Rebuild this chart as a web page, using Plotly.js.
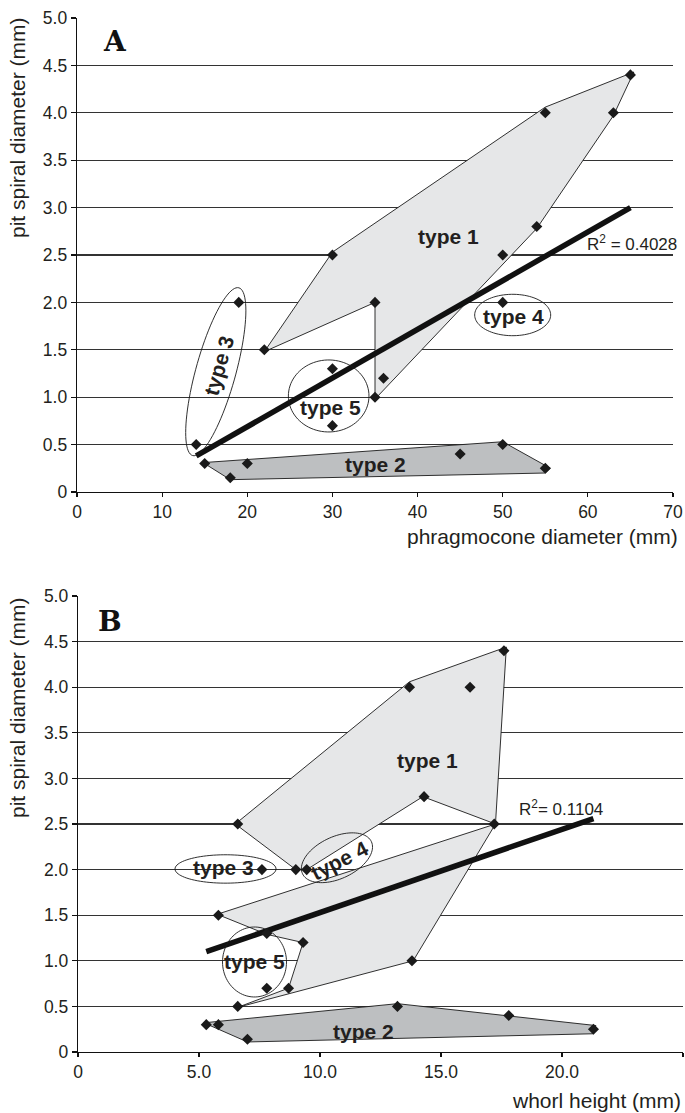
<!DOCTYPE html>
<html><head><meta charset="utf-8">
<script src="https://cdn.plot.ly/plotly-3.0.1.min.js"></script>
<style>html,body{margin:0;padding:0;background:#fff}#chart{width:685px;height:1113px}</style>
</head><body><div id="chart"></div>
<script>
// ---------- Panel A data: phragmocone diameter (mm) vs pit spiral diameter (mm)
const A_type1_x = [22, 30, 35, 35, 36, 50, 54, 55, 63, 65];
const A_type1_y = [1.5, 2.5, 2.0, 1.0, 1.2, 2.5, 2.8, 4.0, 4.0, 4.4];
const A_type2_x = [15, 18, 20, 45, 50, 55];
const A_type2_y = [0.3, 0.15, 0.3, 0.4, 0.5, 0.25];
const A_type3_x = [14, 19];
const A_type3_y = [0.5, 2.0];
const A_type4_x = [50];
const A_type4_y = [2.0];
const A_type5_x = [30, 30];
const A_type5_y = [1.3, 0.7];
const A_trend_x = [14, 65];
const A_trend_y = [0.38, 3.0];
const A_r2 = "0.4028";
// outlines drawn around groups (hand-drawn hulls)
const A_hull1_x = [22, 30, 55, 65.4, 63, 54, 35, 35, 22];
const A_hull1_y = [1.48, 2.53, 4.06, 4.43, 3.97, 2.78, 0.98, 2.0, 1.48];
const A_hull2_x = [14.8, 50, 55.6, 55, 18, 14.8];
const A_hull2_y = [0.31, 0.53, 0.25, 0.2, 0.13, 0.31];

// ---------- Panel B data: whorl height (mm) vs pit spiral diameter (mm)
const B_type1_x = [6.6, 13.7, 16.2, 17.6, 14.3, 17.2, 9.0, 5.8, 9.3, 13.8, 8.7, 6.6];
const B_type1_y = [2.5, 4.0, 4.0, 4.4, 2.8, 2.5, 2.0, 1.5, 1.2, 1.0, 0.7, 0.5];
const B_type2_x = [5.3, 5.8, 7.0, 13.2, 17.8, 21.3];
const B_type2_y = [0.3, 0.3, 0.14, 0.5, 0.4, 0.25];
const B_type3_x = [7.6];
const B_type3_y = [2.0];
const B_type4_x = [9.45];
const B_type4_y = [2.0];
const B_type5_x = [7.8, 7.8];
const B_type5_y = [1.3, 0.7];
const B_trend_x = [5.3, 21.3];
const B_trend_y = [1.1, 2.56];
const B_r2 = "0.1104";
const B_hull1_x = [9.0, 6.5, 13.7, 17.7, 17.25, 13.85, 6.6, 8.7, 9.3, 7.8, 5.75, 17.25, 14.25, 9.45, 9.0];
const B_hull1_y = [2.0, 2.5, 4.06, 4.44, 2.5, 1.0, 0.49, 0.7, 1.2, 1.29, 1.51, 2.5, 2.8, 2.0, 2.0];
const B_hull2_x = [5.2, 13.2, 21.4, 21.3, 7.0, 5.2];
const B_hull2_y = [0.32, 0.53, 0.29, 0.2, 0.11, 0.32];

// ---------- tick labels
const A_xticks = [0, 10, 20, 30, 40, 50, 60, 70];
const A_xticktext = ["0", "10", "20", "30", "40", "50", "60", "70"];
const B_xticks = [0, 5, 10, 15, 20, 25];
const B_xticktext = ["0", "5.0", "10.0", "15.0", "20.0", "25.0"];
const yticks = [0, 0.5, 1, 1.5, 2, 2.5, 3, 3.5, 4, 4.5, 5];
const yticktext = ["0", "0.5", "1.0", "1.5", "2.0", "2.5", "3.0", "3.5", "4.0", "4.5", "5.0"];

// ---------- layout geometry
const W = 685, H = 1113;
const M = {l: 77, r: 2, t: 18, b: 61};
const PW = W - M.l - M.r, PH = H - M.t - M.b;
const domXA = [0, 0.9835], domYA = [0.5416, 1];
const domXB = [0.0017, 1], domYB = [0, 0.441];
const sxA = PW * (domXA[1] - domXA[0]) / 70, syA = PH * (domYA[1] - domYA[0]) / 5;
const sxB = PW * (domXB[1] - domXB[0]) / 25, syB = PH * (domYB[1] - domYB[0]) / 5;

const INK = '#1a1a1a';
const FONT = 'Liberation Sans, Arial, Helvetica, sans-serif';

function hull(x, y, fill, xa, ya) {
  return {x, y, xaxis: xa, yaxis: ya, mode: 'lines', fill: 'toself', fillcolor: fill,
    line: {color: INK, width: 0.9}, hoverinfo: 'skip', showlegend: false};
}
function pts(x, y, xa, ya) {
  return {x, y, xaxis: xa, yaxis: ya, mode: 'markers', showlegend: false,
    marker: {symbol: 'diamond', size: 8.5, color: INK}, cliponaxis: false};
}
function trend(x, y, xa, ya) {
  return {x, y, xaxis: xa, yaxis: ya, mode: 'lines', showlegend: false,
    line: {color: '#111', width: 5.5}, hoverinfo: 'skip'};
}
// ellipse outline (pixel semi-axes a,b rotated by ang degrees on screen)
function ellipse(cx, cy, a, b, ang, sx, sy, xref, yref) {
  const th = ang * Math.PI / 180;
  let d = '';
  for (let i = 0; i <= 90; i++) {
    const t = i / 90 * 2 * Math.PI;
    const dx = a * Math.cos(th) * Math.cos(t) - b * Math.sin(th) * Math.sin(t);
    const dy = a * Math.sin(th) * Math.cos(t) + b * Math.cos(th) * Math.sin(t);
    d += (i ? 'L' : 'M') + (cx + dx / sx).toFixed(4) + ',' + (cy - dy / sy).toFixed(4);
  }
  return {type: 'path', path: d + 'Z', xref, yref, line: {color: INK, width: 0.9}, layer: 'above'};
}

const data = [
  hull(A_hull1_x, A_hull1_y, '#e6e7e8', 'x', 'y'),
  hull(A_hull2_x, A_hull2_y, '#bdbfc1', 'x', 'y'),
  trend(A_trend_x, A_trend_y, 'x', 'y'),
  pts(A_type1_x, A_type1_y, 'x', 'y'),
  pts(A_type2_x, A_type2_y, 'x', 'y'),
  pts(A_type3_x, A_type3_y, 'x', 'y'),
  pts(A_type4_x, A_type4_y, 'x', 'y'),
  pts(A_type5_x, A_type5_y, 'x', 'y'),
  hull(B_hull1_x, B_hull1_y, '#e6e7e8', 'x2', 'y2'),
  hull(B_hull2_x, B_hull2_y, '#bdbfc1', 'x2', 'y2'),
  trend(B_trend_x, B_trend_y, 'x2', 'y2'),
  pts(B_type1_x, B_type1_y, 'x2', 'y2'),
  pts(B_type2_x, B_type2_y, 'x2', 'y2'),
  pts(B_type3_x, B_type3_y, 'x2', 'y2'),
  pts(B_type4_x, B_type4_y, 'x2', 'y2'),
  pts(B_type5_x, B_type5_y, 'x2', 'y2')
];

const shapes = [
  ellipse(16.3, 1.269, 87, 20, -74.6, sxA, syA, 'x', 'y'),
  ellipse(29.56, 1.013, 40.3, 36, 0, sxA, syA, 'x', 'y'),
  ellipse(51.17, 1.867, 38, 20.7, 0, sxA, syA, 'x', 'y'),
  ellipse(6.095, 2.007, 50.5, 14.2, 0, sxB, syB, 'x2', 'y2'),
  ellipse(10.70, 2.13, 38, 21, -25, sxB, syB, 'x2', 'y2'),
  ellipse(7.293, 0.987, 32, 35, 0, sxB, syB, 'x2', 'y2')
];

function lab(text, x, y, xref, yref, angle) {
  return {text, x, y, xref, yref, showarrow: false, textangle: angle || 0,
    xanchor: 'center', yanchor: 'middle',
    font: {family: FONT, size: 21, color: '#231f20', weight: 'bold'}};
}
function px2paperX(px) { return (px - M.l) / PW; }
function px2paperY(py) { return (H - M.b - py) / PH; }

const annotations = [
  lab('type 1', 43.6, 2.70, 'x', 'y'),
  lab('type 2', 35.0, 0.285, 'x', 'y'),
  lab('type 3', 16.7, 1.33, 'x', 'y', -74),
  lab('type 4', 51.3, 1.85, 'x', 'y'),
  lab('type 5', 29.8, 0.89, 'x', 'y'),
  lab('type 1', 14.43, 3.20, 'x2', 'y2'),
  lab('type 2', 11.78, 0.23, 'x2', 'y2'),
  lab('type 3', 6.0, 2.02, 'x2', 'y2'),
  lab('type 4', 10.8, 2.10, 'x2', 'y2', -27),
  lab('type 5', 7.28, 0.99, 'x2', 'y2'),
  {text: 'R<sup>2</sup> = ' + A_r2, x: 59.67, y: 2.63, xref: 'x', yref: 'y', showarrow: false,
    xanchor: 'left', yanchor: 'middle', font: {family: FONT, size: 17, color: '#231f20'}},
  {text: 'R<sup>2</sup>= ' + B_r2, x: 18.14, y: 2.67, xref: 'x2', yref: 'y2', showarrow: false,
    xanchor: 'left', yanchor: 'middle', font: {family: FONT, size: 17, color: '#231f20'}},
  {text: 'A', x: px2paperX(115), y: px2paperY(42), xref: 'paper', yref: 'paper', showarrow: false,
    xanchor: 'center', yanchor: 'middle', font: {family: 'DejaVu Serif, serif', size: 28, color: '#111', weight: 'bold'}},
  {text: 'B', x: px2paperX(110), y: px2paperY(622), xref: 'paper', yref: 'paper', showarrow: false,
    xanchor: 'center', yanchor: 'middle', font: {family: 'DejaVu Serif, serif', size: 28, color: '#111', weight: 'bold'}},
  {text: 'phragmocone diameter (mm)', x: px2paperX(680), y: px2paperY(536), xref: 'paper', yref: 'paper',
    showarrow: false, xanchor: 'right', yanchor: 'middle', font: {family: FONT, size: 21, color: '#231f20'}},
  {text: 'whorl height (mm)', x: px2paperX(683), y: px2paperY(1100), xref: 'paper', yref: 'paper',
    showarrow: false, xanchor: 'right', yanchor: 'middle', font: {family: FONT, size: 21, color: '#231f20'}},
  {text: 'pit spiral diameter (mm)', x: px2paperX(17), y: px2paperY(128), xref: 'paper', yref: 'paper',
    showarrow: false, textangle: -90, xanchor: 'center', yanchor: 'middle', font: {family: FONT, size: 21, color: '#231f20'}},
  {text: 'pit spiral diameter (mm)', x: px2paperX(17), y: px2paperY(708), xref: 'paper', yref: 'paper',
    showarrow: false, textangle: -90, xanchor: 'center', yanchor: 'middle', font: {family: FONT, size: 21, color: '#231f20'}}
];

function xax(dom, range, tv, tt, anchor) {
  return {domain: dom, range, tickvals: tv, ticktext: tt, anchor, showgrid: false, zeroline: false,
    showline: true, linecolor: '#111', linewidth: 1.3, ticks: 'outside', ticklen: 4, tickwidth: 1.2,
    tickcolor: '#111', tickfont: {family: FONT, size: 17.5, color: '#231f20'}, fixedrange: true};
}
function yax(dom, anchor) {
  return {domain: dom, range: [0, 5], tickvals: yticks, ticktext: yticktext, anchor, showgrid: true,
    gridcolor: '#333333', gridwidth: 1.3, zeroline: false, showline: true, linecolor: '#111', linewidth: 1.3,
    ticks: 'outside', ticklen: 5, tickwidth: 1.2, tickcolor: '#111',
    tickfont: {family: FONT, size: 17.5, color: '#231f20'}, fixedrange: true};
}

const layout = {
  width: W, height: H, margin: M, paper_bgcolor: '#fff', plot_bgcolor: '#fff', showlegend: false,
  xaxis: xax(domXA, [0, 70], A_xticks, A_xticktext, 'y'),
  yaxis: yax(domYA, 'x'),
  xaxis2: xax(domXB, [0, 25], B_xticks, B_xticktext, 'y2'),
  yaxis2: yax(domYB, 'x2'),
  shapes, annotations
};
Plotly.newPlot('chart', data, layout, {staticPlot: true, displayModeBar: false});
</script></body></html>
